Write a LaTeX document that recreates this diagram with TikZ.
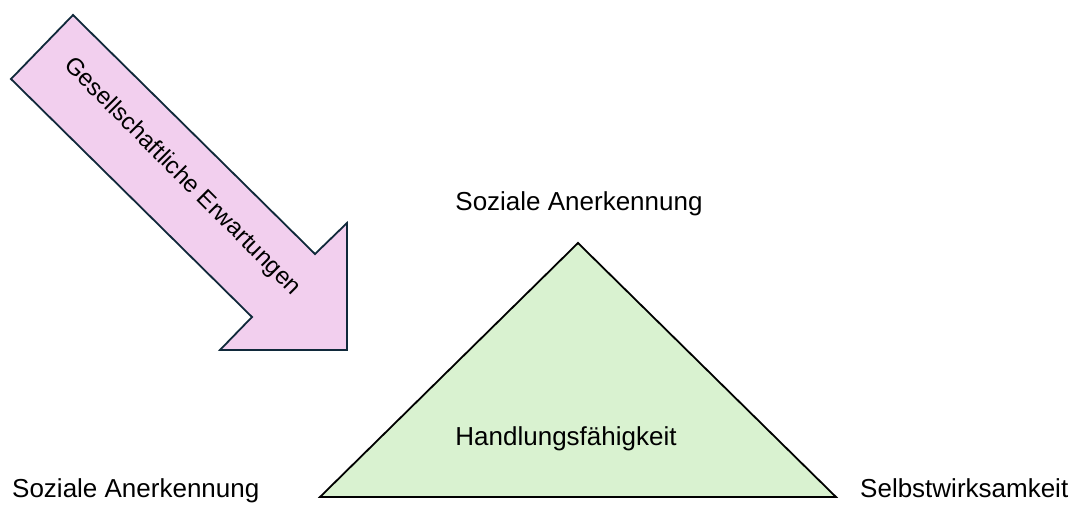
\documentclass[tikz,border=0pt]{standalone}
\usepackage{fontspec}
\setmainfont{Liberation Sans}
\definecolor{arrowfill}{HTML}{F2CFEE}
\definecolor{arrowline}{HTML}{10293A}
\definecolor{trifill}{HTML}{D9F2D0}
\tikzset{
  lbl/.style={font=\fontsize{26}{30}\selectfont, inner sep=0pt, text=black},
  arrowtext/.style={font=\fontsize{24}{28}\selectfont, inner sep=0pt, text=black},
  blockarrow/.style={draw=arrowline, fill=arrowfill, line width=1.8pt, line join=miter},
  tri/.style={draw=black, fill=trifill, line width=1.8pt, line join=miter}
}
\begin{document}
\begin{tikzpicture}[x=1pt,y=-1pt]
\useasboundingbox (0,0) rectangle (1074,505);
% block arrow
\coordinate (a1) at (73,15);
\coordinate (a2) at (11,79);
\coordinate (a3) at (252,317);
\coordinate (a4) at (220,350);
\coordinate (a5) at (347,350);
\coordinate (a6) at (347,223);
\coordinate (a7) at (315,254);
\draw[blockarrow] (a1) -- (a2) -- (a3) -- (a4) -- (a5) -- (a6) -- (a7) -- cycle;
\node[arrowtext, rotate=-45] (erw) at (182,177) {Gesellschaftliche Erwartungen};
% triangle
\coordinate (top) at (578,243);
\coordinate (bl) at (320,497);
\coordinate (br) at (836,497);
\draw[tri] (top) -- (bl) -- (br) -- cycle;
\node[lbl] (hand) at (566,439) {Handlungsfähigkeit};
\node[lbl] (soztop) at (579,204) {Soziale Anerkennung};
\node[lbl, anchor=base west] (sozleft) at (12,497) {Soziale Anerkennung};
\node[lbl, anchor=base west] (selbst) at (860,497) {Selbstwirksamkeit};
\end{tikzpicture}
\end{document}
